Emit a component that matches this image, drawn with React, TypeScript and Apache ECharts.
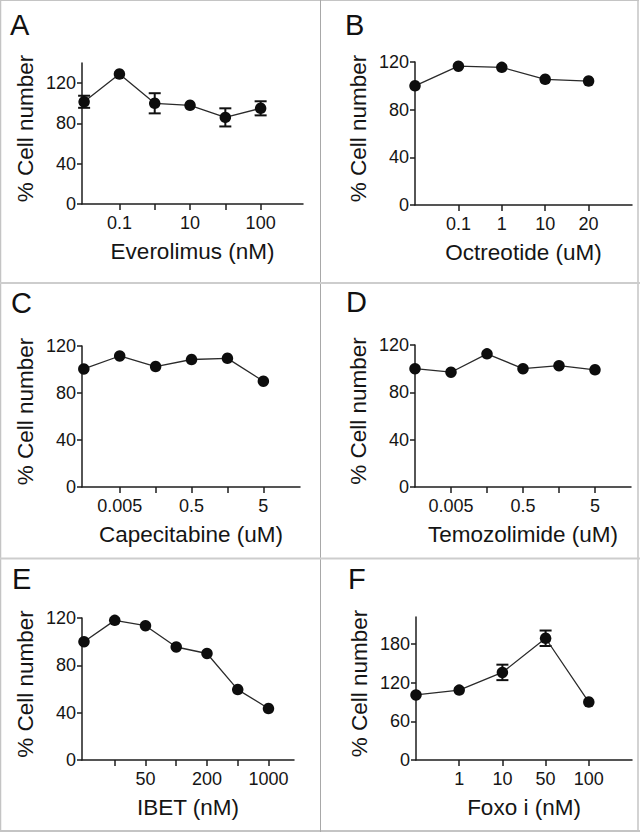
import React, { useEffect, useRef } from 'react';
import * as echarts from 'echarts';

// ---- Data (x positions are ordinal dose indices; tick labels per index) ----
const everolimusTickLabels = ['', '0.1', '', '10', '', '100'];
const everolimusValues = [101.5, 129, 100, 98, 86, 95];
const everolimusErrors = [6, 0, 10, 0, 9, 7];

const octreotideTickLabels = ['', '0.1', '1', '10', '20'];
const octreotideValues = [100, 116.5, 115.5, 105.5, 104];
const octreotideErrors = [0, 0, 0, 0, 0];

const capecitabineTickLabels = ['', '0.005', '', '0.5', '', '5'];
const capecitabineValues = [100.5, 111.5, 102.5, 108.5, 109.5, 90];
const capecitabineErrors = [0, 0, 0, 0, 0, 0];

const temozolimideTickLabels = ['', '0.005', '', '0.5', '', '5'];
const temozolimideValues = [100, 97, 112.5, 100, 102.5, 99];
const temozolimideErrors = [0, 0, 0, 0, 0, 0];

const ibetTickLabels = ['', '', '50', '', '200', '', '1000'];
const ibetValues = [100, 118, 113.5, 95.5, 90, 59.5, 43.5];
const ibetErrors = [0, 0, 0, 0, 0, 0, 0];

const foxoTickLabels = ['', '1', '10', '50', '100'];
const foxoValues = [101, 108.5, 136, 189, 90];
const foxoErrors = [0, 0, 12, 12, 0];

const yTicks40 = [0, 40, 80, 120];
const yTicks60 = [0, 60, 120, 180];

const FONT = '"Liberation Sans", Arial, Helvetica, sans-serif';
const TEXT = '#151515';
const AXIS = '#1e1e1e';

type Panel = {
  letter: string;
  letterX: number;
  letterY: number;
  xName: string;
  tickLabels: string[];
  values: number[];
  errors: number[];
  yMax: number;
  yTicks: number[];
  xMin: number;
  xMax: number;
  left: number;
  top: number;
  width: number;
  height: number;
};

const panels: Panel[] = [
  { letter: 'A', letterX: 10, letterY: 25, xName: 'Everolimus (nM)', tickLabels: everolimusTickLabels, values: everolimusValues, errors: everolimusErrors, yMax: 140, yTicks: yTicks40, xMin: -0.06, xMax: 6.2, left: 82, top: 63, width: 221, height: 141 },
  { letter: 'B', letterX: 345, letterY: 25, xName: 'Octreotide (uM)', tickLabels: octreotideTickLabels, values: octreotideValues, errors: octreotideErrors, yMax: 120, yTicks: yTicks40, xMin: 0, xMax: 5, left: 415, top: 62, width: 217, height: 143 },
  { letter: 'C', letterX: 11, letterY: 303, xName: 'Capecitabine (uM)', tickLabels: capecitabineTickLabels, values: capecitabineValues, errors: capecitabineErrors, yMax: 120, yTicks: yTicks40, xMin: -0.05, xMax: 6.02, left: 82, top: 346, width: 218, height: 141 },
  { letter: 'D', letterX: 346, letterY: 302, xName: 'Temozolimide (uM)', tickLabels: temozolimideTickLabels, values: temozolimideValues, errors: temozolimideErrors, yMax: 120, yTicks: yTicks40, xMin: 0, xMax: 6, left: 415, top: 345, width: 216, height: 142 },
  { letter: 'E', letterX: 12, letterY: 579, xName: 'IBET (nM)', tickLabels: ibetTickLabels, values: ibetValues, errors: ibetErrors, yMax: 120, yTicks: yTicks40, xMin: -0.065, xMax: 6.83, left: 82, top: 618, width: 212, height: 142 },
  { letter: 'F', letterX: 348, letterY: 579, xName: 'Foxo i (nM)', tickLabels: foxoTickLabels, values: foxoValues, errors: foxoErrors, yMax: 222, yTicks: yTicks60, xMin: 0, xMax: 5, left: 416, top: 617, width: 216, height: 143 },
];

function buildOption() {
  const grid: any[] = [];
  const xAxis: any[] = [];
  const yAxis: any[] = [];
  const series: any[] = [];
  const graphic: any[] = [];

  panels.forEach((p, i) => {
    grid.push({ left: p.left, top: p.top, width: p.width, height: p.height, containLabel: false });
    const tickIdx = p.tickLabels.map((_, k) => k).filter((k) => k > 0);
    const labelIdx = p.tickLabels.map((l, k) => (l ? k : -1)).filter((k) => k >= 0);
    xAxis.push({
      type: 'value',
      gridIndex: i,
      min: p.xMin,
      max: p.xMax,
      axisLine: { show: true, onZero: false, lineStyle: { color: AXIS, width: 1.5 } },
      axisTick: { show: true, length: 6, customValues: tickIdx, lineStyle: { color: AXIS, width: 1.5 } },
      axisLabel: {
        customValues: labelIdx,
        formatter: (v: number) => p.tickLabels[Math.round(v)] || '',
        fontSize: 18,
        fontFamily: FONT,
        color: TEXT,
        margin: 10,
      },
      splitLine: { show: false },
      name: p.xName,
      nameLocation: 'middle',
      nameGap: 36,
      nameTextStyle: { fontSize: 22.5, fontFamily: FONT, color: TEXT },
    });
    yAxis.push({
      type: 'value',
      gridIndex: i,
      min: 0,
      max: p.yMax,
      axisLine: { show: true, onZero: false, lineStyle: { color: AXIS, width: 1.5 } },
      axisTick: { show: true, length: 5, customValues: p.yTicks, lineStyle: { color: AXIS, width: 1.5 } },
      axisLabel: {
        customValues: p.yTicks,
        fontSize: 18,
        fontFamily: FONT,
        color: TEXT,
        margin: 6,
      },
      splitLine: { show: false },
      name: '% Cell number',
      nameLocation: 'middle',
      nameRotate: 90,
      nameGap: 45,
      nameTextStyle: { fontSize: 22.5, fontFamily: FONT, color: TEXT, padding: [0, 0, 0, 10] },
    });

    const errData = p.values
      .map((v, k) => [k, v - p.errors[k], v + p.errors[k], p.errors[k]])
      .filter((d) => d[3] > 0);
    series.push({
      type: 'custom',
      xAxisIndex: i,
      yAxisIndex: i,
      z: 1,
      silent: true,
      data: errData,
      renderItem: (params: any, api: any) => {
        const x = api.value(0);
        const lo = api.coord([x, api.value(1)]);
        const hi = api.coord([x, api.value(2)]);
        const hw = 6;
        const style = { stroke: '#111', lineWidth: 2 };
        return {
          type: 'group',
          children: [
            { type: 'line', shape: { x1: hi[0], y1: hi[1], x2: lo[0], y2: lo[1] }, style },
            { type: 'line', shape: { x1: hi[0] - hw, y1: hi[1], x2: hi[0] + hw, y2: hi[1] }, style },
            { type: 'line', shape: { x1: lo[0] - hw, y1: lo[1], x2: lo[0] + hw, y2: lo[1] }, style },
          ],
        };
      },
    });
    series.push({
      type: 'line',
      xAxisIndex: i,
      yAxisIndex: i,
      z: 2,
      data: p.values.map((v, k) => [k, v]),
      symbol: 'circle',
      symbolSize: 11.5,
      showSymbol: true,
      lineStyle: { color: '#2a2a2a', width: 1.3 },
      itemStyle: { color: '#0d0d0d', borderWidth: 0 },
    });

    graphic.push({
      type: 'text',
      x: p.letterX,
      y: p.letterY,
      style: { text: p.letter, font: `29px ${FONT}`, fill: '#111', textAlign: 'left', textVerticalAlign: 'middle' },
    });
  });

  // panel borders
  const border = (x1: number, y1: number, x2: number, y2: number, w: number, c: string) => ({
    type: 'line',
    shape: { x1, y1, x2, y2 },
    style: { stroke: c, lineWidth: w },
    silent: true,
  });
  graphic.push(border(0.5, 0.5, 639, 0.5, 1, '#c4c4c4'));
  graphic.push(border(0.5, 0, 0.5, 832, 1.5, '#c4c4c4'));
  graphic.push(border(638, 0, 638, 832, 1.5, '#c4c4c4'));
  graphic.push(border(0, 831, 640, 831, 2, '#c4c4c4'));
  graphic.push(border(320.5, 0, 320.5, 832, 1, '#a8a8a8'));
  graphic.push(border(0, 283, 640, 283, 2, '#cdcdcd'));
  graphic.push(border(0, 558.5, 640, 558.5, 2, '#cdcdcd'));

  return {
    animation: false,
    backgroundColor: '#ffffff',
    grid,
    xAxis,
    yAxis,
    series,
    graphic,
  };
}

export default function App() {
  const ref = useRef<HTMLDivElement>(null);
  useEffect(() => {
    if (!ref.current) return;
    const chart = echarts.init(ref.current, undefined, { renderer: 'svg', width: 640, height: 832 });
    chart.setOption(buildOption() as any);
    return () => chart.dispose();
  }, []);
  return (
    <div
      ref={ref}
      style={{ position: 'absolute', left: 0, top: 0, width: 640, height: 832, background: '#fff' }}
    />
  );
}
